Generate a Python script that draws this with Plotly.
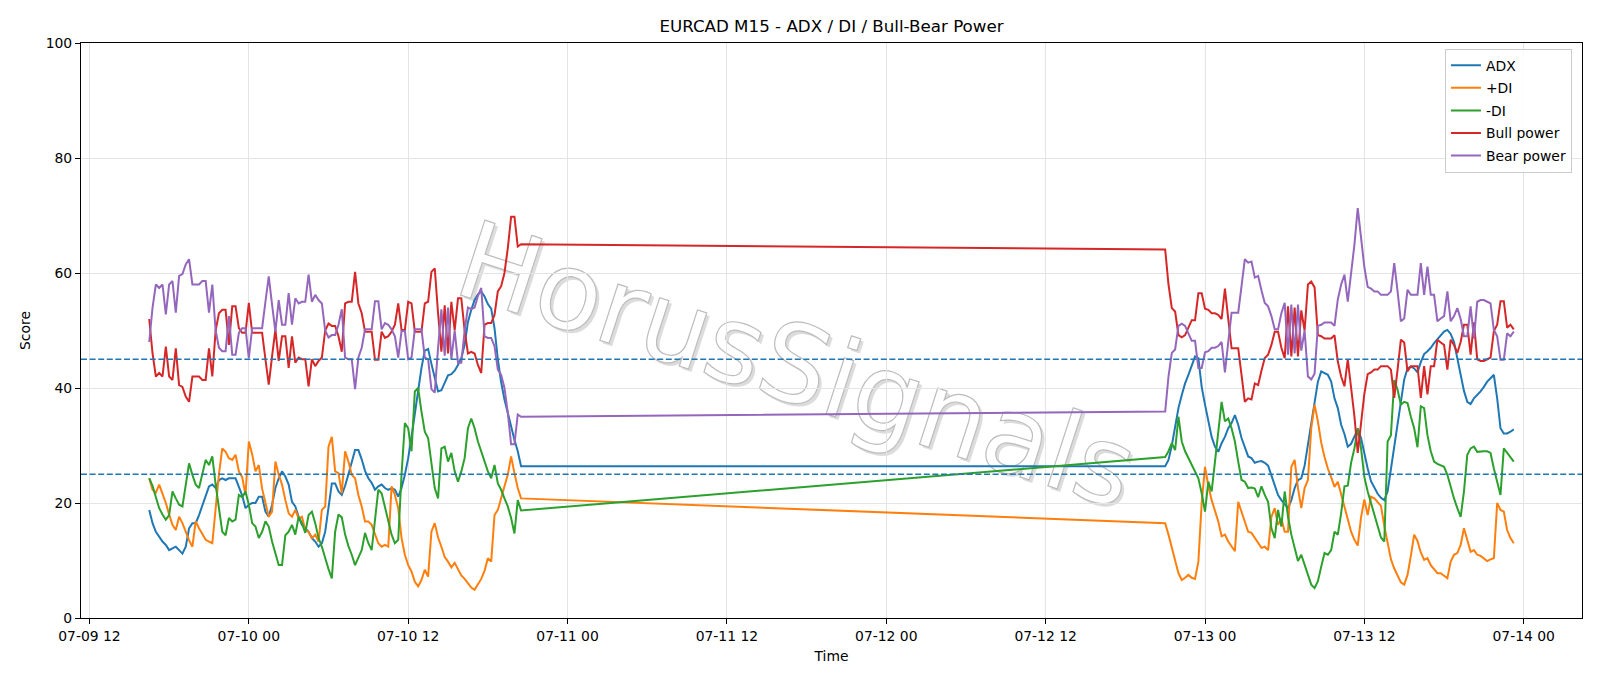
import base64
import pandas as pd
import plotly.graph_objects as go

# ---------------- data (M15 bars, two sessions) ----------------
SEG1_START = "2025-07-09 16:30"
SEG2_START = "2025-07-12 21:00"
BAR_FREQ = "15min"

ADX_S1 = [18.8, 16.5, 15.0, 14.1, 13.3, 12.7, 11.8, 12.1, 12.4, 11.8,
          11.2, 12.4, 15.6, 16.5, 16.5, 17.9, 19.7, 21.4, 22.9, 23.2,
          22.6, 24.0, 24.3, 24.0, 24.3, 24.3, 24.3, 22.8,
          21.3, 19.1, 19.7, 20.0, 20.0, 21.1, 21.1, 18.5, 17.6, 19.7,
          22.6, 24.3, 25.5, 24.6, 23.2, 20.2, 19.4, 17.6, 16.2, 15.6,
          15.0, 13.9, 13.3, 12.4, 13.0, 15.0, 19.1, 23.4, 23.4,
          22.0, 21.4, 23.0, 25.0, 27.3, 29.2, 29.2, 27.6, 25.6, 24.3,
          23.5, 22.3, 22.9, 23.2, 22.6, 22.3, 22.6, 22.3, 21.1, 22.6,
          24.9, 27.8, 31.5, 35.5, 40.0, 43.5, 46.5, 46.8, 44.2,
          42.0, 39.4, 39.6, 41.0, 42.2, 42.4, 43.0, 44.0, 45.2, 47.5,
          51.5, 53.6, 55.3, 56.3, 56.8, 55.9, 54.6, 53.8, 50.4, 45.0,
          41.0, 38.0, 35.5, 33.5, 31.0, 29.0, 26.4]
ADX_S2 = [26.4, 27.5, 30.0, 33.5, 36.5, 38.8, 40.8, 42.3, 43.8, 45.5,
          45.2, 40.2, 37.1, 34.3, 31.5, 29.8, 28.9, 30.4, 31.5, 33.0,
          33.9, 35.3, 33.6, 31.3, 29.5, 28.1,
          27.8, 27.0, 27.2, 27.3, 27.0, 26.5, 24.8, 23.2, 21.4, 20.5,
          19.7, 19.1, 20.5, 22.6, 24.0, 24.3, 26.5, 30.0, 34.0, 37.1,
          41.1, 42.9, 42.6, 42.3, 41.1, 38.2, 36.5, 33.6, 32.0,
          29.8, 30.3, 31.5, 32.8, 31.3, 28.5, 26.0, 23.8, 22.8, 21.6,
          20.9, 20.5, 22.0, 26.0, 30.0, 33.5, 37.5, 41.5, 43.4, 43.7,
          43.4, 42.7, 44.5, 45.9, 46.4, 47.0, 47.8, 48.5, 49.0, 49.8,
          50.1, 49.4, 48.0, 45.0, 42.0, 39.5, 37.6, 37.2, 38.2, 38.8,
          39.4, 40.2, 41.1, 41.7, 42.3, 38.2, 33.0, 32.1, 32.1, 32.4, 32.8]

PDI_S1 = [24.3, 22.3, 21.8, 23.2, 21.6, 20.0, 18.0, 16.2, 15.3, 17.6,
          16.5, 15.0, 13.5, 12.4, 16.8, 15.6, 14.5, 13.6, 13.3, 13.0,
          19.0, 25.0, 29.5, 28.9, 27.8, 27.5, 28.4, 25.5,
          24.5, 21.4, 30.7, 28.5, 25.5, 26.6, 22.5, 19.8, 17.6, 18.5,
          27.2, 24.9, 23.2, 20.5, 18.2, 17.6, 18.8, 17.3, 17.6, 15.3,
          15.0, 13.9, 14.5, 13.3, 18.8, 19.4, 29.8, 31.5, 25.5,
          25.2, 21.7, 29.0, 27.2, 24.9, 24.3, 21.4, 19.4, 16.8, 16.8,
          16.2, 14.5, 13.0, 12.4, 12.7, 12.4, 22.9, 21.4, 19.1, 13.9,
          11.0, 9.2, 8.1, 6.3, 5.5, 6.6, 8.4, 7.2, 15.0,
          16.5, 14.0, 12.4, 10.6, 9.8, 8.8, 9.6, 8.4, 7.4, 6.8,
          6.0, 5.3, 4.9, 5.8, 6.8, 8.2, 10.4, 9.8, 17.9, 18.8,
          21.1, 22.9, 24.9, 28.1, 25.2, 22.6, 20.8]
PDI_S2 = [16.5, 14.5, 12.0, 10.0, 7.8, 6.6, 7.0, 7.5, 7.0, 6.8,
          9.8, 20.0, 26.3, 23.0, 20.5, 18.5, 16.8, 14.2, 14.5, 13.3,
          12.4, 11.6, 20.2, 18.5, 16.5, 15.0,
          14.8, 13.9, 13.0, 12.2, 12.4, 11.8, 17.6, 19.1, 16.2, 17.3,
          15.0, 15.0, 26.3, 27.5, 22.6, 19.1, 22.6, 24.0, 33.0, 37.1,
          34.2, 30.5, 28.0, 26.0, 24.5, 22.8, 23.7, 21.5, 19.5,
          17.0, 15.0, 13.6, 12.6, 17.5, 20.6, 17.9, 21.1, 20.8, 20.2,
          19.5, 16.0, 13.0, 10.2, 8.6, 7.4, 6.2, 5.8, 7.5, 10.8,
          14.5, 13.4, 11.4, 10.1, 10.4, 9.2, 8.4, 7.8, 7.8, 7.4,
          6.9, 9.8, 11.0, 11.3, 12.7, 15.6, 13.3, 11.5, 11.8, 11.0,
          10.8, 10.4, 9.9, 10.2, 10.4, 20.0, 18.8, 18.5, 15.3, 13.9, 13.0]

MDI_S1 = [24.3, 23.0, 21.0, 19.1, 18.0, 17.1, 17.9, 22.0, 20.8, 19.7,
          19.4, 23.2, 26.9, 24.9, 23.2, 22.6, 24.9, 27.5, 26.6, 28.1,
          23.2, 19.0, 15.0, 14.4, 17.4, 16.8, 17.1, 21.4,
          21.0, 22.0, 19.7, 16.5, 15.9, 13.9, 15.0, 16.8, 15.9, 13.3,
          11.3, 9.2, 9.2, 14.4, 15.0, 16.2, 14.5, 17.6, 16.5, 14.8,
          17.9, 18.5, 16.5, 13.9, 12.4, 10.4, 8.5, 6.9, 15.0,
          18.0, 17.5, 14.5, 12.5, 11.0, 9.2, 10.5, 11.8, 14.8, 13.0,
          11.8, 17.6, 22.3, 21.7, 19.4, 17.1, 14.5, 13.0, 13.6, 25.0,
          33.9, 33.0, 29.0, 39.4, 40.0, 35.9, 32.4, 31.3, 26.6,
          22.6, 20.8, 29.5, 29.8, 27.2, 28.7, 25.5, 23.7, 25.5, 27.8,
          33.0, 34.7, 33.0, 30.7, 29.0, 27.2, 25.5, 24.3, 26.6, 23.4,
          22.3, 20.8, 19.4, 17.4, 14.7, 20.5, 18.7]
MDI_S2 = [28.0, 29.0, 30.4, 29.2, 35.0, 30.7, 29.0, 27.8, 26.6, 25.5,
          24.3, 21.7, 18.5, 23.7, 22.0, 27.2, 32.4, 37.6, 34.2, 34.7,
          33.0, 30.7, 27.2, 24.0, 23.7, 22.6,
          22.7, 22.5, 21.0, 22.9, 21.4, 20.2, 15.6, 13.9, 18.8, 15.9,
          22.0, 17.6, 14.5, 12.2, 9.9, 11.0, 9.2, 7.8, 5.8, 5.2,
          6.4, 8.9, 11.3, 11.0, 11.8, 15.0, 14.5, 18.2, 22.9,
          23.0, 27.0, 29.5, 33.0, 29.5, 24.5, 22.0, 20.0, 17.8, 15.6,
          14.0, 13.3, 30.7, 31.8, 41.4, 39.7, 37.1, 37.6, 37.4, 35.0,
          33.0, 29.7, 36.8, 36.5, 31.8, 29.0, 27.2, 26.8, 26.6, 26.3,
          24.9, 22.6, 20.8, 19.1, 17.6, 22.0, 28.4, 29.5, 29.8, 28.9,
          29.0, 29.0, 29.0, 28.7, 26.0, 23.7, 21.4, 29.5, 28.7, 28.0, 27.2]

BULL_S1 = [52.0, 46.0, 42.0, 42.6, 42.0, 47.2, 42.0, 41.4, 46.9, 40.5,
           40.2, 38.5, 37.6, 42.0, 42.0, 42.0, 41.4, 41.4, 46.9, 42.0,
           50.0, 53.0, 53.6, 53.6, 47.5, 54.2, 54.2, 50.4,
           49.6, 49.6, 54.8, 49.6, 49.6, 49.6, 49.6, 45.0, 40.6, 45.5,
           50.2, 44.7, 49.0, 49.0, 43.5, 49.0, 44.4, 45.3, 45.0, 45.0,
           40.3, 45.0, 43.8, 44.7, 45.3, 50.0, 51.2, 50.8, 50.8,
           49.0, 46.3, 54.7, 55.0, 55.0, 60.2, 54.7, 53.0, 49.8, 49.8,
           49.8, 44.9, 44.9, 49.8, 48.7, 49.0, 49.8, 51.0, 54.7, 50.1,
           50.1, 55.0, 54.7, 49.8, 49.8, 49.8, 54.7, 55.0, 60.2,
           60.8, 53.0, 46.3, 54.4, 46.0, 55.0, 50.0, 55.6, 55.6, 50.0,
           46.0, 46.3, 46.0, 44.0, 42.6, 51.0, 51.3, 51.3, 52.7, 56.8,
           57.7, 60.0, 64.3, 69.8, 69.8, 64.6, 65.0]
BULL_S2 = [64.1, 58.0, 53.9, 53.3, 49.2, 48.8, 49.2, 50.4, 51.8, 51.8,
           56.5, 56.5, 53.8, 53.6, 53.0, 53.0, 52.7, 52.0, 57.3, 52.0,
           46.9, 46.9, 46.9, 42.3, 37.6, 38.2,
           38.0, 40.8, 40.5, 43.0, 45.2, 45.8, 47.5, 49.8, 49.8, 47.0,
           45.2, 54.2, 45.5, 54.0, 45.5, 53.5, 50.0, 58.0, 58.5, 57.5,
           49.2, 49.0, 48.6, 48.6, 48.6, 49.2, 44.6, 42.0, 40.3,
           45.0, 40.0, 35.1, 28.7, 34.5, 39.0, 42.4, 42.7, 43.2, 43.2,
           43.8, 43.8, 43.8, 43.2, 38.3, 43.2, 48.4, 47.9, 42.9, 43.8,
           43.8, 43.8, 38.3, 43.8, 38.9, 43.8, 43.8, 48.4, 47.9, 47.5,
           43.2, 48.4, 47.5, 46.1, 48.0, 51.0, 51.0, 45.8, 51.4, 45.0,
           44.7, 44.7, 45.0, 45.3, 49.9, 51.0, 55.1, 55.1, 50.5, 51.0, 50.2]

BEAR_S1 = [48.0, 54.0, 58.0, 57.4, 58.0, 52.8, 58.0, 58.6, 53.1, 59.5,
           59.8, 61.5, 62.4, 58.0, 58.0, 58.0, 58.6, 58.6, 53.1, 58.0,
           50.0, 47.0, 46.4, 46.4, 52.5, 45.8, 45.8, 49.6,
           50.4, 50.4, 45.2, 50.4, 50.4, 50.4, 50.4, 55.0, 59.4, 54.5,
           49.8, 55.3, 51.0, 51.0, 56.5, 51.0, 55.6, 54.7, 55.0, 55.0,
           59.7, 55.0, 56.2, 55.3, 54.7, 50.0, 48.8, 49.2, 49.2,
           51.0, 53.7, 45.3, 45.0, 45.0, 39.8, 45.3, 47.0, 50.2, 50.2,
           50.2, 55.1, 55.1, 50.2, 51.3, 51.0, 50.2, 49.0, 45.3, 49.9,
           49.9, 45.0, 45.3, 50.2, 50.2, 50.2, 45.3, 45.0, 39.8,
           39.2, 47.0, 53.7, 45.6, 54.0, 45.0, 50.0, 44.4, 44.4, 50.0,
           54.0, 53.7, 54.0, 56.0, 57.4, 49.0, 48.7, 48.7, 47.3, 43.2,
           42.3, 40.0, 35.7, 30.2, 30.2, 35.4, 35.0]
BEAR_S2 = [35.9, 42.0, 46.1, 46.7, 50.8, 51.2, 50.8, 49.6, 48.2, 48.2,
           43.5, 43.5, 46.2, 46.4, 47.0, 47.0, 47.3, 48.0, 42.7, 48.0,
           53.1, 53.1, 53.1, 57.7, 62.4, 61.8,
           62.0, 59.2, 59.5, 57.0, 54.8, 54.2, 52.5, 50.2, 50.2, 53.0,
           54.8, 45.8, 54.5, 46.0, 54.5, 46.5, 50.0, 42.0, 41.5, 42.5,
           50.8, 51.0, 51.4, 51.4, 51.4, 50.8, 55.4, 58.0, 59.7,
           55.0, 60.0, 64.9, 71.3, 65.5, 61.0, 57.6, 57.3, 56.8, 56.8,
           56.2, 56.2, 56.2, 56.8, 61.7, 56.8, 51.6, 52.1, 57.1, 56.2,
           56.2, 56.2, 61.7, 56.2, 61.1, 56.2, 56.2, 51.6, 52.1, 52.5,
           56.8, 51.6, 52.5, 53.9, 52.0, 49.0, 49.0, 54.2, 48.6, 55.0,
           55.3, 55.3, 55.0, 54.7, 50.1, 49.0, 44.9, 44.9, 49.5, 49.0, 49.8]

THRESHOLDS = [45, 25]
SERIES_NAMES = ["ADX", "+DI", "-DI", "Bull power", "Bear power"]
SERIES_COLORS = ["#1f77b4", "#ff7f0e", "#2ca02c", "#d62728", "#9467bd"]
Y_TICKS = [0, 20, 40, 60, 80, 100]
TITLE = "EURCAD M15 - ADX / DI / Bull-Bear Power"
WATERMARK = "HorusSignals"

# ---------------- build ----------------
n1, n2 = len(ADX_S1), len(ADX_S2)
for s1, s2 in [(PDI_S1, PDI_S2), (MDI_S1, MDI_S2), (BULL_S1, BULL_S2), (BEAR_S1, BEAR_S2)]:
    assert len(s1) == n1 and len(s2) == n2, (len(s1), len(s2), n1, n2)

t1 = pd.date_range(SEG1_START, periods=n1, freq=BAR_FREQ)
t2 = pd.date_range(SEG2_START, periods=n2, freq=BAR_FREQ)
times = list(t1) + list(t2)
series = [ADX_S1 + ADX_S2, PDI_S1 + PDI_S2, MDI_S1 + MDI_S2,
          BULL_S1 + BULL_S2, BEAR_S1 + BEAR_S2]

# matplotlib-like 5% x margins
span = times[-1] - times[0]
x_range = [times[0] - span * 0.05, times[-1] + span * 0.05]

FONT = "DejaVu Sans"
fig = go.Figure()
for name, color, vals in zip(SERIES_NAMES, SERIES_COLORS, series):
    fig.add_trace(go.Scatter(x=times, y=vals, mode="lines", name=name,
                             legendgroup=name,
                             line=dict(color=color, width=2)))

for th in THRESHOLDS:
    fig.add_shape(type="line", xref="paper", x0=0, x1=1, yref="y", y0=th, y1=th,
                  line=dict(color="#1f77b4", width=1.3, dash="6px,2.6px"), layer="above")

# watermark as an SVG image under the data
W, H = 1501, 575
cx, cy = 716, 322
ang, fs = 18, 108
svg = (
    f'<svg xmlns="http://www.w3.org/2000/svg" width="{W}" height="{H}" viewBox="0 0 {W} {H}">'
    f'<g transform="translate({cx + 3},{cy + 3}) rotate({ang})" font-family="DejaVu Sans" font-size="{fs}" '
    f'text-anchor="middle" dominant-baseline="central">'
    f'<text fill="#8a8a8a" fill-opacity="0.3">{WATERMARK}</text></g>'
    f'<g transform="translate({cx},{cy}) rotate({ang})" font-family="DejaVu Sans" font-size="{fs}" '
    f'text-anchor="middle" dominant-baseline="central">'
    f'<text fill="#ffffff" stroke="#bdbdbd" stroke-width="1.2">{WATERMARK}</text></g>'
    f'</svg>'
)
src = "data:image/svg+xml;base64," + base64.b64encode(svg.encode()).decode()
fig.add_layout_image(dict(source=src, xref="paper", yref="paper", x=0, y=1,
                          sizex=1, sizey=1, xanchor="left", yanchor="top",
                          sizing="stretch", layer="below", opacity=1))

axis_common = dict(showline=True, mirror=True, linecolor="black", linewidth=1.1,
                   ticks="outside", ticklen=5, tickwidth=1.1, tickcolor="black",
                   showgrid=True, gridcolor="#e4e4e4", gridwidth=1, zeroline=False,
                   tickfont=dict(family=FONT, size=13.9, color="black"))

fig.update_layout(
    width=1600, height=686,
    margin=dict(l=81, r=18, t=43, b=68),
    paper_bgcolor="white", plot_bgcolor="white",
    font=dict(family=FONT, size=13.9, color="black"),
    title=dict(text=TITLE, x=0.5, xref="paper", xanchor="center",
               y=1 - 26 / 686, yref="container", yanchor="middle",
               font=dict(family=FONT, size=16.7, color="black")),
    xaxis=dict(type="date", range=x_range, tick0="2025-07-09 12:00",
               dtick=12 * 3600 * 1000, tickformat="%m-%d %H",
               title=dict(text="Time", standoff=8,
                          font=dict(family=FONT, size=13.9, color="black")),
               **axis_common),
    yaxis=dict(range=[0, 100], tickvals=Y_TICKS,
               title=dict(text="Score", standoff=11,
                          font=dict(family=FONT, size=13.9, color="black")),
               **axis_common),
    legend=dict(x=0.9933, y=0.99, xanchor="right", yanchor="top",
                bgcolor="rgba(255,255,255,0.85)", bordercolor="#cccccc", borderwidth=1,
                font=dict(family=FONT, size=13.9, color="black"),
                traceorder="grouped", tracegroupgap=1.5),
    showlegend=True,
)

fig.write_html("out.html")
